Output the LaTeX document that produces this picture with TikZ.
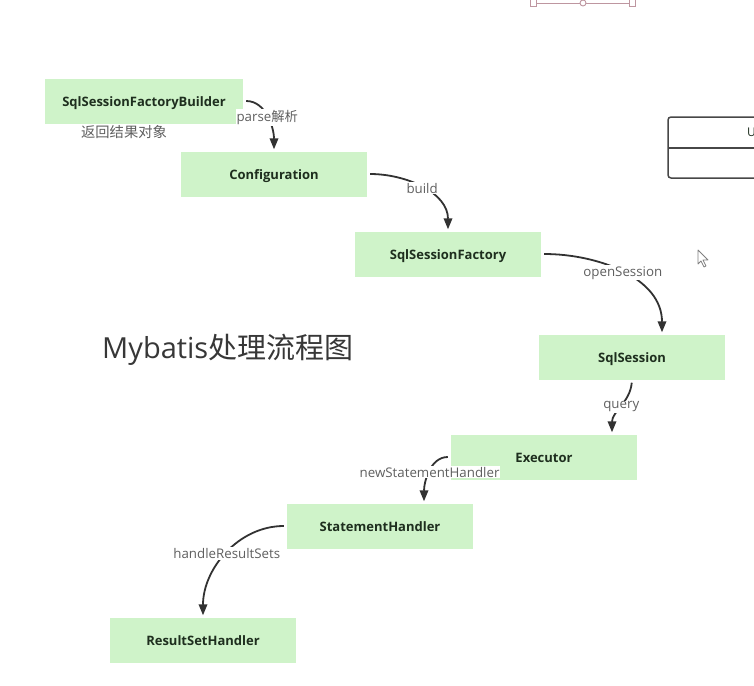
\documentclass[tikz,border=0pt]{standalone}
\usepackage{fontspec}
\setmainfont{Open Sans}
\newfontfamily\cjk{Noto Sans CJK SC}
\usetikzlibrary{arrows.meta}
\definecolor{boxgreen}{RGB}{207,243,201}
\definecolor{boxtext}{RGB}{30,46,30}
\definecolor{edgegray}{RGB}{50,50,50}
\definecolor{labelgray}{RGB}{95,95,95}
\definecolor{titlegray}{RGB}{55,55,55}
\definecolor{handlepink}{RGB}{190,150,160}
\tikzset{
  stage/.style={fill=boxgreen, minimum width=186pt, minimum height=45pt, inner sep=0pt,
    text height=12pt, text depth=0.5pt,
    font=\bfseries\fontsize{13}{15}\selectfont, text=boxtext},
  flow/.style={draw=edgegray, line width=1.8pt, shorten <=3pt, shorten >=2pt,
    -{Triangle[length=11pt,width=8.5pt]}},
  lbl/.style={fill=white, inner sep=1pt, text=labelgray, font=\fontsize{13.3}{15}\selectfont},
}
\begin{document}
\begin{tikzpicture}[x=1pt, y=-1pt]
\useasboundingbox (0,0) rectangle (754,685);
\clip (0,0) rectangle (754,685);

% stages of the flow
\node[stage, minimum width=198pt] (builder) at (144,101) {SqlSessionFactoryBuilder};
\node[stage] (config)   at (274,174) {Configuration};
\node[stage] (factory)  at (448,254) {SqlSessionFactory};
\node[stage] (session)  at (632,357) {SqlSession};
\node[stage] (executor) at (544,457) {Executor};
\node[stage] (stmt)     at (380,526) {StatementHandler};
\node[stage] (result)   at (203,640) {ResultSetHandler};

\node[lbl, fill=none, font=\fontsize{14.3}{16}\selectfont] (ret) at (124,132) {\cjk 返回结果对象};

% title
\node[anchor=west, inner sep=0pt, text=titlegray, font=\fontsize{29}{32}\selectfont]
  (title) at (102,350) {Mybatis{\cjk 处理流程图}};

% calls between the stages
\draw[flow] (builder.east) to[out=0, in=90]
  node[lbl] (l1) {parse{\cjk 解析}} (config.north);
\draw[flow] (config.east) to[out=0, in=90]
  node[lbl] (l2) {build} (factory.north);
\draw[flow] (factory.east) to[out=0, in=90]
  node[lbl] (l3) {openSession} ([xshift=30pt]session.north);
\draw[flow] (session.south) to[out=-95, in=90]
  node[lbl] (l4) {query} ([xshift=68pt]executor.north);
\draw[flow] (executor.west) to[out=180, in=90]
  node[lbl] (l5) {newStatementHandler} ([xshift=44pt]stmt.north);
\draw[flow] (stmt.west) to[out=180, in=90]
  node[lbl] (l6) {handleResultSets} (result.north);

% class box at the right edge
\draw[draw=edgegray!90, line width=1.5pt, rounded corners=3pt] (668,117) rectangle (800,178);
\draw[draw=edgegray!90, line width=1.5pt] (668,148) -- (800,148);
\node[anchor=west, inner sep=0pt, text=boxtext, font=\fontsize{12}{14}\selectfont] (cls) at (747,132) {U};

% selection handles along the top
\draw[handlepink, line width=0.9pt] (535,3) -- (630,3);
\draw[handlepink, line width=0.9pt, fill=white] (530,-3) rectangle (536,6);
\draw[handlepink, line width=0.9pt, fill=white] (629,-3) rectangle (635,6);
\draw[handlepink, line width=0.9pt, fill=white] (583,3) circle (3);

% pointer
\draw[gray, line width=0.8pt, fill=white, line join=round]
  (698,250) -- (698,264) -- (701,261) -- (704,267) -- (706,266) -- (703,260) -- (708,260) -- cycle;
\end{tikzpicture}
\end{document}
